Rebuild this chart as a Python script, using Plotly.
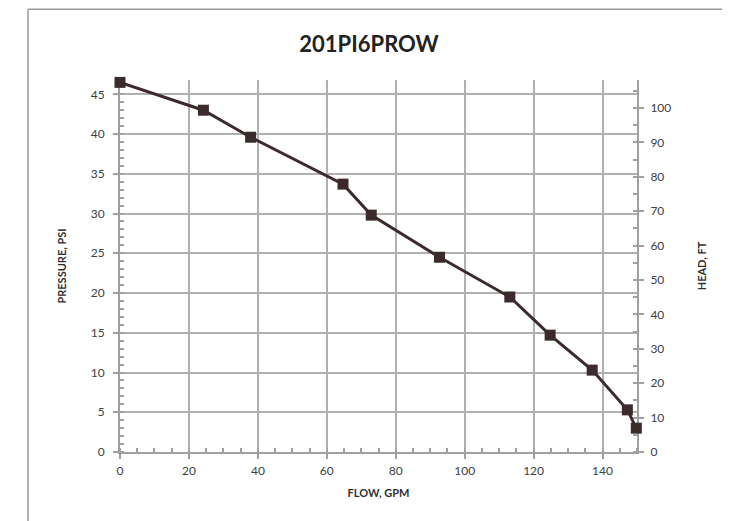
import plotly.graph_objects as go

flow_gpm = [0, 24.2, 37.9, 64.7, 72.9, 92.7, 113.1, 124.8, 137.0, 147.2, 149.8]
pressure_psi = [46.5, 43.0, 39.6, 33.7, 29.8, 24.5, 19.5, 14.7, 10.3, 5.3, 3.0]
PSI_TO_FT = 2.31
head_ft = [p * PSI_TO_FT for p in pressure_psi]

title = "201PI6PROW"
x_title = "FLOW, GPM"
y_title = "PRESSURE, PSI"
y2_title = "HEAD, FT"

YMAX = 46.8
font_fam = "Lato, Open Sans, sans-serif"
line_col = "#3b2b2d"
grid_col = "#b0b0b0"
axis_col = "#a0a0a0"

fig = go.Figure()
fig.add_trace(go.Scatter(
    x=flow_gpm, y=head_ft, mode="lines", yaxis="y2",
    line=dict(color="rgba(0,0,0,0)", width=0),
    hoverinfo="skip", showlegend=False,
))
fig.add_trace(go.Scatter(
    x=flow_gpm, y=pressure_psi, mode="lines+markers",
    line=dict(color=line_col, width=3),
    marker=dict(symbol="square", size=11, color=line_col),
    cliponaxis=False, showlegend=False,
))

tickfont = dict(family=font_fam, size=12, color="#404040")
titlefont = dict(family=font_fam, size=11, color="#303030", weight="bold")

fig.update_layout(
    width=722, height=513,
    paper_bgcolor="white", plot_bgcolor="white",
    margin=dict(l=112, r=93, t=72, b=69),
    title=dict(text=title, x=0.5, xanchor="center", y=0.93, yanchor="middle",
               font=dict(family=font_fam, size=22, color="#222222", weight="bold")),
    xaxis=dict(
        range=[0, 150], dtick=20, tick0=0, layer="below traces",
        showgrid=True, gridcolor=grid_col, gridwidth=1.6,
        showline=True, linecolor=axis_col, linewidth=2,
        ticks="outside", ticklen=5, tickcolor=axis_col, tickwidth=1.5,
        minor=dict(dtick=5, ticks="inside", ticklen=4, tickcolor=axis_col, showgrid=False),
        tickfont=tickfont, zeroline=False, ticklabelstandoff=2,
        title=dict(text=x_title, font=titlefont, standoff=12),
    ),
    yaxis=dict(
        range=[0, YMAX], dtick=5, tick0=0, layer="below traces",
        showgrid=True, gridcolor=grid_col, gridwidth=1.6,
        showline=True, linecolor=axis_col, linewidth=2,
        ticks="outside", ticklen=5, tickcolor=axis_col, tickwidth=1.5,
        minor=dict(dtick=1, ticks="inside", ticklen=4, tickcolor=axis_col, showgrid=False),
        tickfont=tickfont, zeroline=False, ticklabelstandoff=6,
        title=dict(text=y_title, font=titlefont, standoff=22),
    ),
    yaxis2=dict(
        overlaying="y", side="right", layer="below traces",
        range=[0, YMAX * PSI_TO_FT], dtick=10, tick0=0,
        showgrid=False,
        showline=True, linecolor=axis_col, linewidth=2,
        ticks="outside", ticklen=5, tickcolor=axis_col, tickwidth=1.5,
        minor=dict(dtick=5, ticks="inside", ticklen=4, tickcolor=axis_col),
        tickfont=tickfont, zeroline=False, ticklabelstandoff=4,
        title=dict(text=y2_title, font=titlefont, standoff=28),
    ),
    shapes=[
        dict(type="line", xref="paper", yref="paper", x0=-0.178, x1=1.2, y0=1.19, y1=1.19,
             line=dict(color="#999999", width=1.5)),
        dict(type="line", xref="paper", yref="paper", x0=-0.178, x1=-0.178, y0=1.19, y1=-0.2,
             line=dict(color="#999999", width=1.5)),
    ],
)

fig.write_html("out.html")
